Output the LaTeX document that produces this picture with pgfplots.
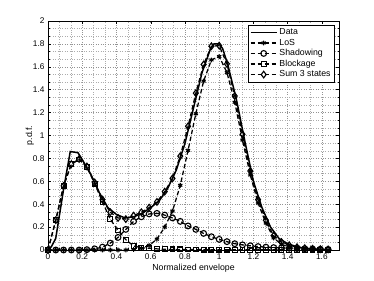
\documentclass[border=0pt]{standalone}
\usepackage{fontspec}
\setmainfont{Liberation Sans}
\usepackage{pgfplots}
\pgfplotsset{compat=1.18}
\usepackage{pgfplotstable}

\pgfplotstableread{
x        los    shad   block  sum
0        0      0      0      0
0.04545  0      0      0.26   0.26
0.09091  0      0      0.56   0.56
0.13636  0      0      0.75   0.75
0.18182  0      0      0.79   0.795
0.22727  0      0.003  0.725  0.73
0.27273  0      0.01   0.58   0.59
0.31818  0      0.025  0.42   0.44
0.36364  0      0.06   0.27   0.33
0.40909  0      0.11   0.17   0.28
0.45455  0      0.18   0.09   0.27
0.5      0.005  0.25   0.035  0.30
0.54545  0.015  0.29   0.02   0.33
0.59091  0.04   0.315  0.015  0.37
0.63636  0.095  0.32   0.01   0.42
0.68182  0.2    0.305  0.006  0.51
0.72727  0.34   0.28   0.005  0.625
0.77273  0.565  0.25   0.005  0.82
0.81818  0.87   0.21   0.004  1.08
0.86364  1.19   0.18   0.004  1.37
0.90909  1.475  0.145  0.003  1.62
0.95455  1.66   0.116  0.003  1.78
1.0      1.69   0.093  0.003  1.785
1.04545  1.55   0.073  0.003  1.625
1.09091  1.29   0.055  0.002  1.345
1.13636  0.96   0.045  0.002  1.01
1.18182  0.655  0.037  0.002  0.69
1.22727  0.41   0.03   0.002  0.44
1.27273  0.235  0.025  0.002  0.26
1.31818  0.105  0.021  0.002  0.125
1.36364  0.05   0.018  0.002  0.07
1.40909  0.025  0.015  0.001  0.042
1.45455  0.01   0.013  0.001  0.025
1.5      0.004  0.011  0.001  0.016
1.54545  0.001  0.009  0.001  0.011
1.59091  0      0.007  0      0.007
1.63636  0      0.005  0      0.005
}\states

\pgfplotstableread{
x     y
0     0
0.02  0.03
0.045 0.10
0.09  0.52
0.13  0.86
0.175 0.85
0.2   0.79
0.25  0.66
0.3   0.50
0.35  0.37
0.4   0.31
0.45  0.28
0.5   0.29
0.55  0.32
0.6   0.37
0.65  0.43
0.7   0.54
0.75  0.70
0.8   0.93
0.85  1.24
0.9   1.55
0.95  1.76
0.97  1.80
1.0   1.80
1.02  1.76
1.05  1.62
1.1   1.32
1.15  0.95
1.2   0.60
1.25  0.37
1.3   0.20
1.35  0.10
1.4   0.055
1.45  0.03
1.5   0.015
1.55  0.007
1.6   0.003
1.65  0
}\datacurve

\begin{document}
\begin{tikzpicture}
\path[use as bounding box] (0,0) rectangle (374bp,281bp);
\begin{axis}[
  at={(48bp,31bp)}, anchor=south west,
  scale only axis, width=291bp, height=229bp,
  xmin=0, xmax=1.7, ymin=0, ymax=2,
  xtick={0,0.2,0.4,0.6,0.8,1,1.2,1.4,1.6},
  ytick={0,0.2,0.4,0.6,0.8,1,1.2,1.4,1.6,1.8,2},
  minor tick num=2,
  tick align=inside,
  major tick length=3bp, minor tick length=1.5bp,
  every tick/.style={black, line width=0.4pt},
  grid=both,
  major grid style={gray!85, dotted, line width=0.5pt},
  minor grid style={gray!65, dotted, line width=0.45pt},
  axis line style={black, line width=0.5pt},
  /pgf/number format/assume math mode=true,
  tick label style={font=\fontsize{8.3}{10}\selectfont},
  label style={font=\fontsize{8.8}{10.5}\selectfont},
  xlabel={Normalized envelope},
  ylabel={p.d.f.},
  xlabel style={at={(axis description cs:0.5,-0.081)}, anchor=center},
  ylabel style={at={(axis description cs:-0.062,0.5)}, anchor=center, rotate=0},
  legend style={at={(axis description cs:0.986,0.9825)}, anchor=north east,
    draw=black, line width=0.6pt, fill=white,
    font=\fontsize{8.8}{10.5}\selectfont, row sep=-1.2pt,
    inner xsep=2pt, inner ysep=1.5pt},
  legend cell align=left,
  legend image code/.code={%
    \draw[mark repeat=2,mark phase=2,#1] plot coordinates {(0cm,0cm) (0.46cm,0cm) (0.92cm,0cm)};},
  every axis plot/.append style={black},
]
\addplot[line width=1.5pt, no marks] table[x=x,y=y] {\datacurve};
\addlegendentry{Data}
\addplot[line width=1.25pt, dash pattern=on 4.5pt off 2.5pt, mark=asterisk, mark size=2.4pt, mark options={solid, line width=1.1pt}] table[x=x,y=los] {\states};
\addlegendentry{LoS}
\addplot[line width=1.25pt, dash pattern=on 4.5pt off 2.5pt, mark=o, mark size=2.9pt, mark options={solid, line width=1.1pt}] table[x=x,y=shad] {\states};
\addlegendentry{Shadowing}
\addplot[line width=1.25pt, dash pattern=on 4.5pt off 2.5pt, mark=square, mark size=2.4pt, mark options={solid, line width=1.1pt}] table[x=x,y=block] {\states};
\addlegendentry{Blockage}
\addplot[line width=1.25pt, dash pattern=on 4.5pt off 2.5pt, mark=diamond, mark size=3.3pt, mark options={solid, line width=1.1pt}] table[x=x,y=sum] {\states};
\addlegendentry{Sum 3 states}
\end{axis}
\end{tikzpicture}
\end{document}
